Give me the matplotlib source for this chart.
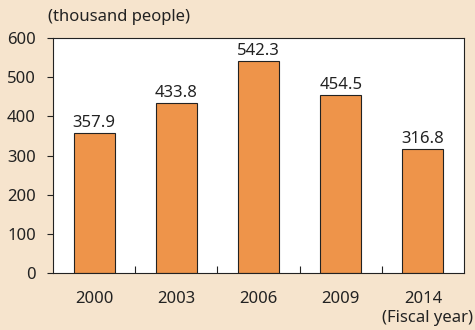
import numpy as np
import matplotlib.pyplot as plt

plt.rcParams['font.family'] = ['Noto Sans', 'DejaVu Sans']

# data
years = ['2000', '2003', '2006', '2009', '2014']
people = [357.9, 433.8, 542.3, 454.5, 316.8]
yticks = [0, 100, 200, 300, 400, 500, 600]

bg = '#f6e4cd'
bar_col = '#ee944a'
ink = '#222222'
fs = 12

fig = plt.figure(figsize=(4.75, 3.3), dpi=100, facecolor=bg)
ax = fig.add_axes([0.1116, 0.1727, 0.8653, 0.7121])
ax.set_facecolor('white')

x = np.arange(len(years))
bars = ax.bar(x, people, width=0.5, color=bar_col, edgecolor=ink, linewidth=0.8)
for b, v in zip(bars, people):
    ax.text(b.get_x() + b.get_width() / 2, v + 5, f'{v:.1f}',
            ha='center', va='bottom', fontsize=fs, color=ink)

ax.set_xlim(-0.5, len(years) - 0.5)
ax.set_ylim(0, 600)
ax.set_yticks(yticks)
ax.tick_params(axis='y', direction='out', length=4.3, width=0.8, colors=ink,
               labelsize=fs, pad=8)

# x ticks: labels under bars, tick marks at category boundaries pointing in
ax.set_xticks(x)
ax.set_xticklabels(years)
ax.tick_params(axis='x', length=0, labelsize=fs, colors=ink, pad=13)
ax.set_xticks(np.arange(0.5, len(years) - 0.5, 1), minor=True)
ax.tick_params(axis='x', which='minor', direction='in', length=5, width=0.8, colors=ink)

for s in ax.spines.values():
    s.set_color(ink)
    s.set_linewidth(0.8)

fig.text(0.101, 0.948, '(thousand people)', fontsize=fs, color=ink, ha='left', va='center')
fig.text(0.995, 0.035, '(Fiscal year)', fontsize=fs, color=ink, ha='right', va='center')

fig.savefig('out.png', dpi=100, facecolor=bg)
